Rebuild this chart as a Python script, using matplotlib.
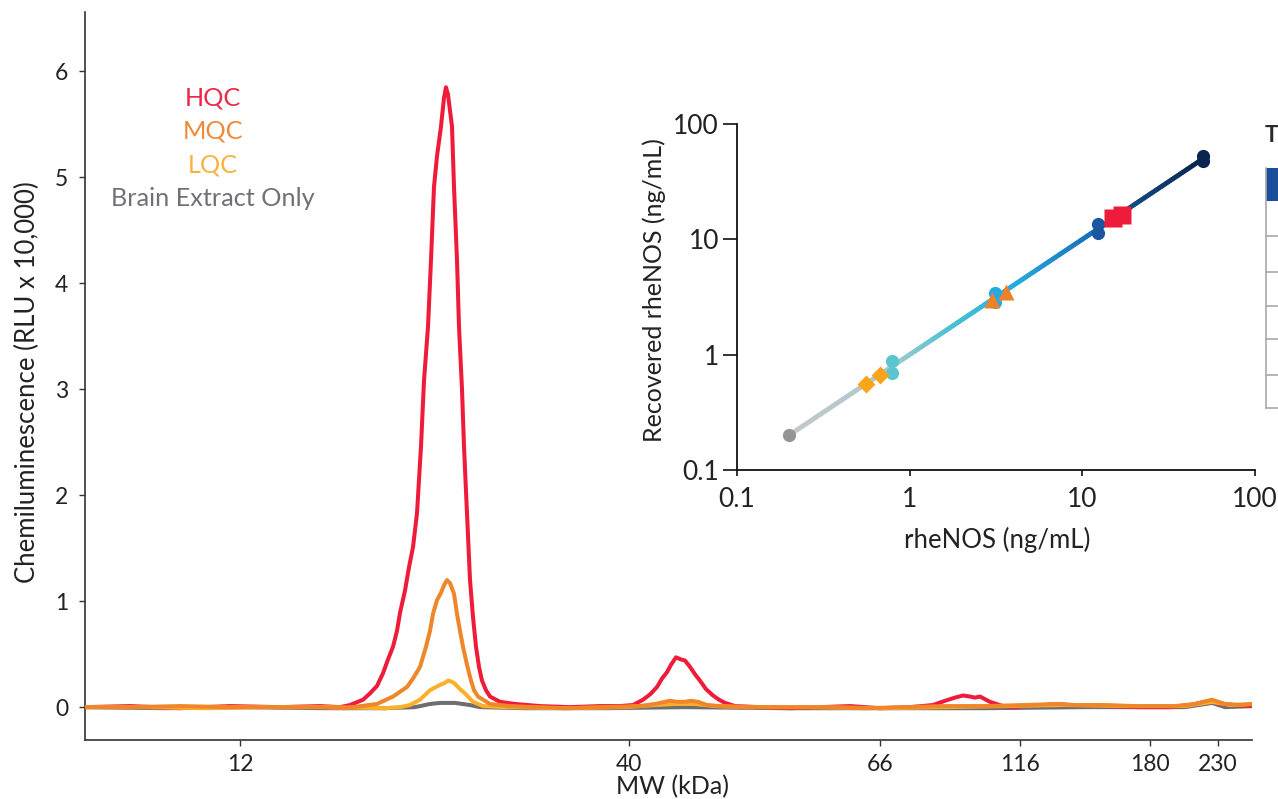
import numpy as np
import matplotlib
matplotlib.use("Agg")
import matplotlib.pyplot as plt
from matplotlib.collections import LineCollection
from matplotlib.colors import LinearSegmentedColormap
from matplotlib.lines import Line2D
from matplotlib.patches import Rectangle

plt.rcParams['font.family'] = ['Lato', 'DejaVu Sans']

# ---------------- data: main electropherogram ----------------
mw_tick_pos = [155, 544, 795, 935, 1065, 1133]
mw_tick_labels = ['12', '40', '66', '116', '180', '230']

hqc_x = [0, 45, 95, 145, 195, 235, 255, 265, 278, 285, 292, 298, 303, 308, 312, 315, 320, 324, 328, 332,
         336, 339, 343, 346, 349, 352, 356, 359, 361, 363, 367, 369, 372, 374, 377, 379, 382, 385, 388, 391,
         394, 397, 401, 405, 415, 430, 455, 485, 515, 535, 548, 558, 565, 572, 577, 582, 586, 591, 596, 600,
         605, 610, 615, 621, 628, 634, 640, 650, 675, 705, 735, 765, 795, 825, 848, 860, 870, 878, 885, 890,
         895, 905, 918, 930, 945, 960, 972, 985, 1005, 1025, 1055, 1085, 1105, 1120, 1127, 1135, 1150, 1167]
hqc_y = [0.00, 0.01, -0.01, 0.01, 0.00, 0.01, 0.00, 0.02, 0.07, 0.13, 0.20, 0.32, 0.45, 0.57, 0.72, 0.89, 1.10, 1.32, 1.51, 1.83,
         2.46, 3.08, 3.59, 4.22, 4.91, 5.20, 5.48, 5.75, 5.85, 5.78, 5.48, 4.91, 4.22, 3.59, 3.00, 2.46, 1.83, 1.20, 0.85, 0.57,
         0.38, 0.25, 0.16, 0.10, 0.05, 0.03, 0.01, 0.00, 0.01, 0.01, 0.02, 0.07, 0.12, 0.19, 0.27, 0.33, 0.40, 0.47, 0.45, 0.44,
         0.38, 0.31, 0.25, 0.17, 0.11, 0.07, 0.04, 0.01, 0.00, -0.01, 0.00, 0.01, -0.01, 0.00, 0.02, 0.06, 0.09, 0.11, 0.10, 0.09,
         0.10, 0.05, 0.01, 0.00, 0.02, 0.02, 0.03, 0.02, 0.02, 0.01, 0.00, 0.00, 0.02, 0.05, 0.06, 0.03, 0.02, 0.01]

mqc_x = [0, 45, 95, 145, 195, 235, 260, 292, 308, 322, 328, 335, 341, 345, 348, 352, 356, 359, 362, 365,
         369, 372, 375, 378, 382, 386, 389, 393, 405, 425, 450, 480, 520, 555, 570, 580, 585, 592, 600, 606,
         613, 622, 635, 660, 700, 740, 780, 820, 860, 900, 940, 972, 990, 1020, 1050, 1090, 1110, 1127, 1140, 1155, 1167]
mqc_y = [0.00, 0.00, 0.01, 0.00, 0.00, 0.00, -0.01, 0.03, 0.10, 0.19, 0.27, 0.38, 0.57, 0.72, 0.88, 1.01, 1.08, 1.15, 1.20, 1.17,
         1.07, 0.88, 0.72, 0.57, 0.40, 0.25, 0.16, 0.10, 0.03, 0.01, 0.00, -0.01, 0.00, 0.01, 0.03, 0.05, 0.06, 0.05, 0.05, 0.06,
         0.05, 0.02, 0.01, 0.00, 0.00, 0.00, -0.01, 0.00, 0.01, 0.01, 0.02, 0.03, 0.02, 0.02, 0.01, 0.01, 0.03, 0.07, 0.03, 0.02, 0.03]

lqc_x = [0, 60, 120, 180, 240, 300, 315, 325, 335, 345, 355, 360, 363, 367, 370, 375, 380, 388, 398, 420,
         480, 540, 570, 590, 610, 630, 660, 720, 800, 860, 920, 980, 1040, 1100, 1127, 1145, 1167]
lqc_y = [0.00, 0.00, -0.01, 0.00, 0.00, -0.01, 0.00, 0.02, 0.07, 0.16, 0.21, 0.23, 0.25, 0.24, 0.22, 0.17, 0.13, 0.05, 0.01, 0.00,
         -0.01, 0.00, 0.02, 0.03, 0.03, 0.01, 0.00, 0.00, -0.01, 0.00, 0.01, 0.02, 0.01, 0.01, 0.05, 0.02, 0.03]

brain_x = [0, 80, 160, 240, 300, 330, 345, 355, 370, 385, 395, 440, 520, 600, 700, 800, 900, 1000, 1100, 1127, 1140, 1167]
brain_y = [0.00, -0.01, 0.00, -0.01, -0.01, 0.00, 0.03, 0.04, 0.04, 0.02, 0.00, -0.01, -0.01, 0.00, -0.01, -0.01, -0.01, 0.00, 0.00, 0.04, 0.00, 0.01]

series_names = ['HQC', 'MQC', 'LQC', 'Brain Extract Only']

# ---------------- data: inset recovery plot ----------------
fit_x = [0.2, 50]
fit_y = [0.2, 50]
gray_pt_x, gray_pt_y = [0.2], [0.2]
diamond_x, diamond_y = [0.56, 0.67], [0.56, 0.67]
teal_x, teal_y = [0.787, 0.787], [0.88, 0.69]
lblue_x, lblue_y = [3.11, 3.11], [3.4, 2.89]
tri_x, tri_y = [3.0, 3.6], [2.98, 3.52]
blue_x, blue_y = [12.4, 12.4], [13.5, 11.3]
sq_x, sq_y = [15.1, 16.9], [15.2, 16.3]
navy_x, navy_y = [50.1, 50.1], [52.7, 47.8]
inset_ticks = [0.1, 1, 10, 100]
inset_tick_labels = ['0.1', '1', '10', '100']

# ---------------- figure ----------------
W, H = 1278, 799
fig = plt.figure(figsize=(W / 100, H / 100), dpi=100)

def fx(px):
    return px / W

def fy(py):
    return 1 - py / H

ax = fig.add_axes([fx(85), fy(740), fx(1252) - fx(85), fy(12) - fy(740)])
c_red, c_orange, c_yellow, c_gray = '#ee1c3a', '#f0862a', '#fcb02a', '#6d6e70'
lw = 2.9
ax.plot(brain_x, brain_y, color=c_gray, lw=lw, zorder=2)
ax.plot(hqc_x, hqc_y, color=c_red, lw=lw, zorder=3)
ax.plot(lqc_x, lqc_y, color=c_yellow, lw=lw, zorder=4)
ax.plot(mqc_x, mqc_y, color=c_orange, lw=lw, zorder=5)

ax.set_xlim(0, 1167)
ax.set_ylim(-0.31, 6.56)
ax.set_xticks(mw_tick_pos)
ax.set_xticklabels(mw_tick_labels)
ax.set_yticks([0, 1, 2, 3, 4, 5, 6])
for s in ['top', 'right']:
    ax.spines[s].set_visible(False)
for s in ['left', 'bottom']:
    ax.spines[s].set_color('#333333')
    ax.spines[s].set_linewidth(1.2)
ax.tick_params(axis='both', direction='out', length=4, width=1, color='#333333',
               labelsize=16.5, labelcolor='#222222')
ax.tick_params(axis='x', pad=6)
ax.tick_params(axis='y', pad=8)

fig.text(fx(672), fy(787), 'MW (kDa)', ha='center', va='center', fontsize=18, color='#222222')
fig.text(fx(27), fy(382), 'Chemiluminescence (RLU x 10,000)', ha='center', va='center',
         rotation=90, fontsize=18.5, color='#222222')

leg_cols = ['#ea2a48', '#f08a3a', '#fbb040', '#707175']
leg_y = [98, 131, 165, 199]
for name, col, yy in zip(series_names, leg_cols, leg_y):
    fig.text(fx(213), fy(yy), name, ha='center', va='center', fontsize=18.2, color=col)

# ---------------- inset ----------------
ax2 = fig.add_axes([fx(737), fy(470), fx(1255) - fx(737), fy(124) - fy(470)])
ax2.set_xscale('log')
ax2.set_yscale('log')
ax2.set_xlim(0.1, 100)
ax2.set_ylim(0.1, 100)

cmap = LinearSegmentedColormap.from_list('fit', [
    (0.0, '#c6c8ca'), (0.25, '#a9c9cd'), (0.38, '#4fc3d3'), (0.55, '#26abe0'),
    (0.75, '#176bb5'), (0.85, '#12477f'), (1.0, '#0a2550')])
lx = np.logspace(np.log10(fit_x[0]), np.log10(fit_x[1]), 200)
ly = np.logspace(np.log10(fit_y[0]), np.log10(fit_y[1]), 200)
pts = np.column_stack([lx, ly]).reshape(-1, 1, 2)
segs = np.concatenate([pts[:-1], pts[1:]], axis=1)
lc = LineCollection(segs, cmap=cmap, linewidths=3.4, capstyle='round', zorder=2)
lc.set_array(np.linspace(0, 1, len(segs)))
ax2.add_collection(lc)

ax2.plot(gray_pt_x, gray_pt_y, 'o', ms=9.5, color='#939598', mec='none', zorder=3)
ax2.plot(teal_x, teal_y, 'o', ms=9.5, color='#5ac5cf', mec='none', zorder=3)
ax2.plot(diamond_x, diamond_y, 'D', ms=9, color='#f9a51b', mec='none', zorder=4)
ax2.plot(lblue_x, lblue_y, 'o', ms=9.5, color='#27aae1', mec='none', zorder=3)
ax2.plot(tri_x, tri_y, '^', ms=11.5, color='#ef8128', mec='none', zorder=4)
ax2.plot(blue_x, blue_y, 'o', ms=9.5, color='#1c55a0', mec='none', zorder=3)
ax2.plot(sq_x, sq_y, 's', ms=13, color='#ed1c3a', mec='none', zorder=4)
ax2.plot(navy_x, navy_y, 'o', ms=9.5, color='#0b2550', mec='none', zorder=3)

ax2.set_xticks(inset_ticks)
ax2.set_xticklabels(inset_tick_labels)
ax2.set_yticks(inset_ticks)
ax2.set_yticklabels(inset_tick_labels)
ax2.minorticks_off()
for s in ['top', 'right']:
    ax2.spines[s].set_visible(False)
for s in ['left', 'bottom']:
    ax2.spines[s].set_color('#111111')
    ax2.spines[s].set_linewidth(1.3)
ax2.tick_params(axis='both', direction='out', width=1.2, color='#111111',
                labelsize=19, labelcolor='#222222')
ax2.tick_params(axis='y', length=10, pad=3)
ax2.tick_params(axis='x', length=4, pad=8)
ax2.patch.set_alpha(0)

fig.text(fx(997), fy(540), 'rheNOS (ng/mL)', ha='center', va='center', fontsize=18.5, color='#222222')
fig.text(fx(654), fy(290), 'Recovered rheNOS (ng/mL)', ha='center', va='center',
         rotation=90, fontsize=18, color='#222222')

# ---------------- cut-off table at the right edge ----------------
fig.text(fx(1265), fy(136), 'T', ha='left', va='center', fontsize=16, fontweight='bold', color='#2b2b2b')
fig.add_artist(Rectangle((fx(1266), fy(201)), fx(1278) - fx(1266), fy(168) - fy(201),
                         transform=fig.transFigure, facecolor='#1b4f9c', edgecolor='none'))
fig.add_artist(Line2D([fx(1266), fx(1266)], [fy(168), fy(408)], transform=fig.transFigure,
                      color='#a7a9ac', lw=1.2))
for yy in [236, 272, 306, 339, 375, 408]:
    fig.add_artist(Line2D([fx(1266), fx(1278)], [fy(yy), fy(yy)], transform=fig.transFigure,
                          color='#a7a9ac', lw=1.2))

fig.savefig('out.png', dpi=100)
